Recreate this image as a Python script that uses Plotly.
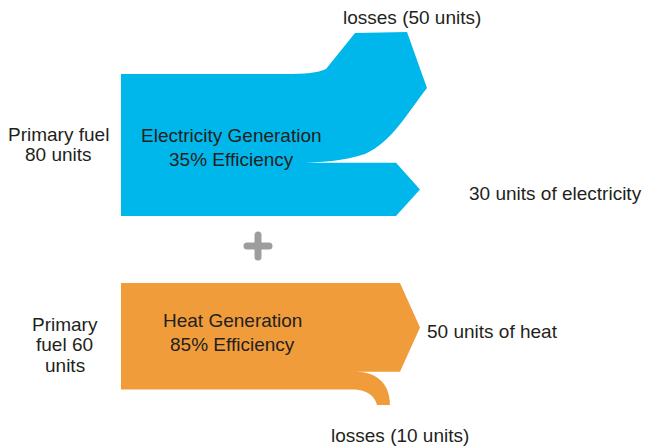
import plotly.graph_objects as go

# ---- values -------------------------------------------------------------
plants = ["Electricity Generation", "Heat Generation"]
efficiency = ["35% Efficiency", "85% Efficiency"]
fuel_in = [80, 60]          # primary fuel entering each plant
useful_out = [30, 50]       # useful energy leaving each plant
losses = [50, 10]           # energy lost in each plant
fuel_labels = [["Primary fuel", "80 units"], ["Primary", "fuel 60", "units"]]
out_labels = ["30 units of electricity", "50 units of heat"]
loss_labels = ["losses (50 units)", "losses (10 units)"]

# ---- styling ------------------------------------------------------------
W, H = 649, 448
BLUE = "#00B7EB"
ORANGE = "#F09C3B"
GREY = "#9D9D9D"
INK = "#231F20"
FONT = "Liberation Sans, Arial, Helvetica, sans-serif"
FS = 19
PX_PER_UNIT = 1.775   # band thickness per energy unit
X0 = 121              # left edge of the plant blocks

# ---- electricity plant: losses bend upward, electricity goes right -----
e_top = 74
e_split = e_top + losses[0] * PX_PER_UNIT
e_bot = e_top + fuel_in[0] * PX_PER_UNIT
e_mid = (e_split + e_bot) / 2
elec_path = (
    f"M {X0},{e_top} L 285,{e_top} C 305,{e_top} 318,{e_top - 1} 326,{e_top - 5} "
    f"L 355,33 L 407,32 L 427,88 "
    f"C 408,112 392,142 365,154 C 345,{e_split - 2} 320,{e_split} 297,{e_split} "
    f"L 396,{e_split} L 420,{e_mid} L 396,{e_bot} L {X0},{e_bot} Z"
)

# ---- heat plant: heat goes right, losses curl downward ------------------
h_top = 283
h_split = h_top + useful_out[1] * PX_PER_UNIT
h_bot = h_top + fuel_in[1] * PX_PER_UNIT
h_mid = (h_top + h_split) / 2
heat_path = (
    f"M {X0},{h_top} L 400,{h_top} L 420,{h_mid} L 400,{h_split} "
    f"L 356,{h_split} C 376,{h_split} 390,383 390,405 L 377,405 "
    f"C 375,397 368,{h_bot} 352,{h_bot} L {X0},{h_bot} Z"
)

# ---- plus sign between the two plants -----------------------------------
cx, cy, arm, r = 258, 246, 14.5, 3.5
plus_h = (
    f"M {cx - arm + r},{cy - r} L {cx + arm - r},{cy - r} "
    f"Q {cx + arm},{cy - r} {cx + arm},{cy} Q {cx + arm},{cy + r} {cx + arm - r},{cy + r} "
    f"L {cx - arm + r},{cy + r} Q {cx - arm},{cy + r} {cx - arm},{cy} "
    f"Q {cx - arm},{cy - r} {cx - arm + r},{cy - r} Z"
)
plus_v = (
    f"M {cx - r},{cy - arm + r} L {cx - r},{cy + arm - r} "
    f"Q {cx - r},{cy + arm} {cx},{cy + arm} Q {cx + r},{cy + arm} {cx + r},{cy + arm - r} "
    f"L {cx + r},{cy - arm + r} Q {cx + r},{cy - arm} {cx},{cy - arm} "
    f"Q {cx - r},{cy - arm} {cx - r},{cy - arm + r} Z"
)

shapes = [
    dict(type="path", path=elec_path, fillcolor=BLUE, line=dict(width=0), layer="below"),
    dict(type="path", path=heat_path, fillcolor=ORANGE, line=dict(width=0), layer="below"),
    dict(type="path", path=plus_h, fillcolor=GREY, line=dict(width=0), layer="below"),
    dict(type="path", path=plus_v, fillcolor=GREY, line=dict(width=0), layer="below"),
]

annotations = []


def label(text, x, baseline, xanchor="center"):
    annotations.append(dict(
        text=text, x=x, y=baseline - 0.35 * FS, xref="x", yref="y",
        xanchor=xanchor, yanchor="middle", showarrow=False,
        font=dict(family=FONT, size=FS, color=INK),
    ))


# fuel inputs (one annotation per line for tight leading)
for line, base in zip(fuel_labels[0], [141, 161]):
    label(line, 58.5, base)
for line, base in zip(fuel_labels[1], [330.7, 351.5, 372.5]):
    label(line, 64.5, base)

# plant names and efficiencies
label(plants[0], 231, 142)
label(efficiency[0], 231.5, 165.7)
label(plants[1], 232, 326.7)
label(efficiency[1], 232, 350.7)

# outputs and losses
label(out_labels[0], 467, 200, "left")
label(out_labels[1], 425, 337.7, "left")
label(loss_labels[0], 411.5, 24)
label(loss_labels[1], 400, 442)

fig = go.Figure()
fig.update_layout(
    width=W, height=H, autosize=False,
    margin=dict(l=0, r=0, t=0, b=0),
    paper_bgcolor="white", plot_bgcolor="white",
    xaxis=dict(range=[0, W], visible=False, fixedrange=True),
    yaxis=dict(range=[H, 0], visible=False, fixedrange=True),
    shapes=shapes, annotations=annotations, showlegend=False,
)
fig.write_html("out.html", config={"displayModeBar": False})
